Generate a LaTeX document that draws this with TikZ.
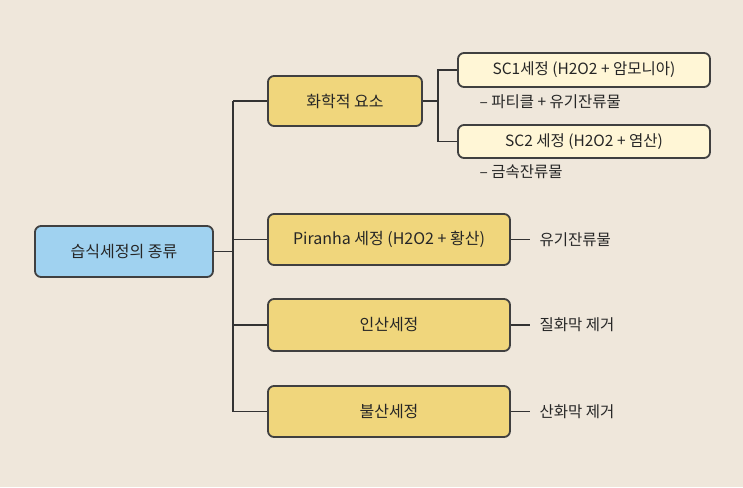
\documentclass[tikz,border=0pt]{standalone}
\usepackage{fontspec}
\setmainfont{Noto Sans CJK KR}
\definecolor{bg}{RGB}{239,231,219}
\definecolor{yel}{RGB}{240,214,124}
\definecolor{cre}{RGB}{255,246,214}
\definecolor{blu}{RGB}{160,210,240}
\begin{document}
\begin{tikzpicture}[x=1pt,y=-1pt,
  box/.style={draw=black!75,line width=1.8pt,rounded corners=6pt,font=\fontsize{16}{18}\selectfont,text=black!85},
  y1/.style={box,fill=yel},
  sc/.style={box,fill=cre,font=\fontsize{15.5}{18}\selectfont},
  lbl/.style={font=\fontsize{15.5}{18}\selectfont,text=black!85,anchor=west},
  ln/.style={draw=black!80,line width=1.8pt}]
\fill[bg] (0,0) rectangle (743,487);
\node[box,fill=blu,minimum width=178pt,minimum height=51pt] (root) at (124,251.5) {습식세정의 종류};
\node[y1,minimum width=154pt,minimum height=50pt] (chem) at (345,101) {화학적 요소};
\node[y1,minimum width=242pt,minimum height=51pt] (pir) at (389,239.5) {Piranha 세정 (H2O2 + 황산)};
\node[y1,minimum width=242pt,minimum height=52pt] (pho) at (389,325) {인산세정};
\node[y1,minimum width=242pt,minimum height=51pt] (hf) at (389,411.5) {불산세정};
\node[sc,minimum width=252pt,minimum height=34pt] (sc1) at (584,70) {SC1세정 (H2O2 + 암모니아)};
\node[sc,minimum width=252pt,minimum height=33pt] (sc2) at (584,141.5) {SC2 세정 (H2O2 + 염산)};
\node[lbl] (t1) at (476,102) {– 파티클 + 유기잔류물};
\node[lbl] (t2) at (476,172) {– 금속잔류물};
\coordinate (a1) at (530,239.5);\node[lbl] (l1) at (536,239.5) {유기잔류물};
\coordinate (a2) at (530,325);\node[lbl] (l2) at (536,325) {질화막 제거};
\coordinate (a3) at (530,411.5);\node[lbl] (l3) at (536,411.5) {산화막 제거};
\coordinate (tr) at (233,251.5);
\coordinate (tt) at (233,101);\coordinate (tb) at (233,411.5);
\coordinate (c) at (438,101);
\draw[ln] (root.east) -- (tr);
\draw[ln] (tt) -- (tb);
\draw[ln] (tt) -- (chem.west);
\draw[ln] (233,239.5) -- (pir.west);
\draw[ln] (233,325) -- (pho.west);
\draw[ln] (tb) -- (hf.west);
\draw[ln] (chem.east) -- (c);
\draw[ln] (sc1.west) -| (c) |- (sc2.west);
\draw[ln] (pir.east) -- (a1);
\draw[ln] (pho.east) -- (a2);
\draw[ln] (hf.east) -- (a3);
\end{tikzpicture}
\end{document}
